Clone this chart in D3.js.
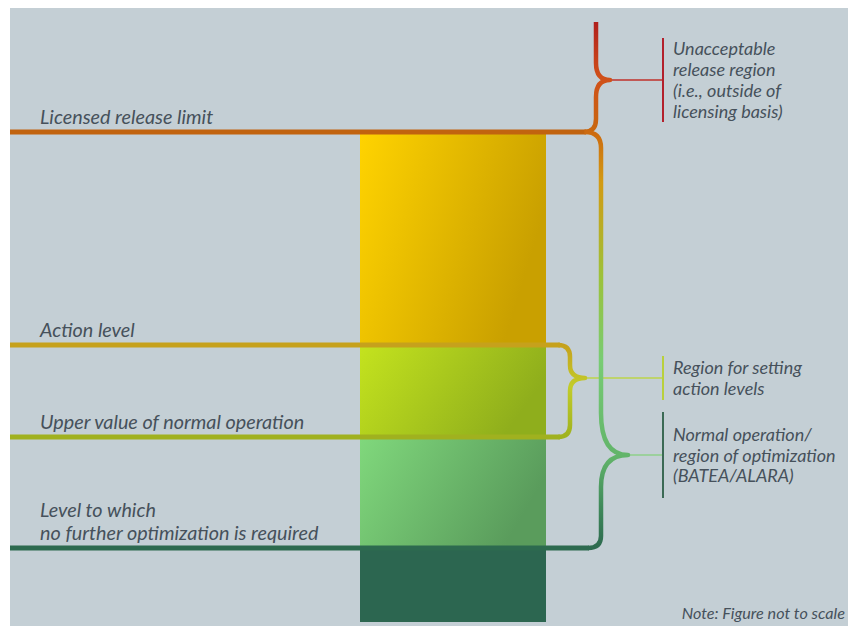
<!DOCTYPE html>
<html>
<head>
<meta charset="utf-8">
<script src="https://cdn.jsdelivr.net/npm/d3@7"></script>
<style>
  html, body { margin: 0; padding: 0; background: #ffffff; }
  svg { display: block; }
  text { font-family: Lato, "Open Sans", sans-serif; font-style: italic; fill: #46515b; }
</style>
</head>
<body>
<svg id="chart" width="848" height="626"></svg>
<script>
// ---- data (conceptual, not to scale) ----
const levelLabels = [
  ["Licensed release limit"],
  ["Action level"],
  ["Upper value of normal operation"],
  ["Level to which", "no further optimization is required"]
];
const levelValues = [98, 55.4, 37, 14.8];
const levelColors = ["#c1630f", "#c6a11c", "#a0b11f", "#2d6a4f"];

const barBreaks = [0, 14.8, 37, 55.4, 98];
const barStops = [
  ["#2c6650", "#2c6650"],
  ["#80d87c", "#5a9c5c"],
  ["#c4e31e", "#8fae1c"],
  ["#ffd300", "#c9a000"]
];

const regionLabels = [
  ["Unacceptable", "release region", "(i.e., outside of", "licensing basis)"],
  ["Region for setting", "action levels"],
  ["Normal operation/", "region of optimization", "(BATEA/ALARA)"]
];
const regionSpans = [[98, 120], [37, 55.4], [14.8, 98]];
const regionTips = [108.4, 48.8, 33.4];
const regionBarColors = ["#b3202c", "#b9d03c", "#3b6a55"];
const regionLinkColors = ["#c0302a", "#bcd44a", "#8fd08a"];

const noteText = "Note: Figure not to scale";

// ---- layout ----
const W = 848, H = 626;
const svg = d3.select("#chart");
const y = d3.scaleLinear().domain([0, 120]).range([622, 22]);
const barX0 = 360, barX1 = 546;
const lineX0 = 10;

const defs = svg.append("defs");

// background
svg.append("rect").attr("x", 10).attr("y", 8).attr("width", W - 10).attr("height", H - 8).attr("fill", "#c4cfd5");

// bar gradients (mostly left-to-right)
barStops.forEach((s, i) => {
  const g = defs.append("linearGradient").attr("id", "bar" + i)
    .attr("x1", 0).attr("y1", 0).attr("x2", 1).attr("y2", 0.35);
  g.append("stop").attr("offset", "0%").attr("stop-color", s[0]);
  g.append("stop").attr("offset", "100%").attr("stop-color", s[1]);
});

// bar segments
const segs = d3.range(barBreaks.length - 1).map(i => ({ lo: barBreaks[i], hi: barBreaks[i + 1], i }));
svg.append("g").selectAll("rect").data(segs).join("rect")
  .attr("x", barX0).attr("width", barX1 - barX0)
  .attr("y", d => y(d.hi) + (d.i === segs.length - 1 ? 2 : 0))
  .attr("height", d => y(d.lo) - y(d.hi) - (d.i === segs.length - 1 ? 2 : 0))
  .attr("fill", d => `url(#bar${d.i})`);

// bracket stroke gradients
function vGrad(id, y1, y2, stops) {
  const g = defs.append("linearGradient").attr("id", id)
    .attr("gradientUnits", "userSpaceOnUse")
    .attr("x1", 0).attr("x2", 0).attr("y1", y1).attr("y2", y2);
  stops.forEach(s => g.append("stop").attr("offset", s[0]).attr("stop-color", s[1]));
}
vGrad("gTop", y(120), y(98), [[0, "#b01f1c"], [0.5, "#d0501a"], [1, "#c8680f"]]);
vGrad("gBig", y(98), y(14.8), [[0, "#cc6a10"], [0.12, "#d39a12"], [0.35, "#9cc23a"], [0.55, "#78cc74"], [0.78, "#62b46a"], [0.9, "#3f8a5a"], [1, "#2d6a4f"]]);
vGrad("gMid", y(55.4), y(37), [[0, "#c6a11c"], [0.45, "#c2cc2a"], [1, "#9fb21f"]]);

// horizontal level lines
const lineEnds = [586, 560, 560, 589];
svg.append("g").selectAll("line").data(levelValues).join("line")
  .attr("x1", lineX0).attr("x2", (d, i) => lineEnds[i])
  .attr("y1", d => y(d)).attr("y2", d => y(d))
  .attr("stroke", (d, i) => levelColors[i]).attr("stroke-width", 5);

// level labels
levelLabels.forEach((lines, i) => {
  const base = y(levelValues[i]) - 8 - (lines.length - 1) * 23;
  const t = svg.append("text").attr("x", 40).attr("y", base).attr("font-size", 19.8);
  lines.forEach((l, k) => t.append("tspan").attr("x", 40).attr("y", base + k * 23).text(l));
});

// brackets
const topXv = 596, topTip = 610;
const bigXv = 601, bigTip = 628;
const midXv = 570, midTip = 585;

const pTop = `M${topXv},${y(120)} L${topXv},${y(regionTips[0]) - 17} Q${topXv},${y(regionTips[0])} ${topTip},${y(regionTips[0])} Q${topXv},${y(regionTips[0])} ${topXv},${y(regionTips[0]) + 17} L${topXv},${y(98) - 13} Q${topXv},${y(98)} ${topXv - 12},${y(98)}`;
const pBig = `M${bigXv - 16},${y(98)} Q${bigXv},${y(98)} ${bigXv},${y(98) + 16} L${bigXv},${y(regionTips[2]) - 42} Q${bigXv},${y(regionTips[2])} ${bigTip},${y(regionTips[2])} Q${bigXv},${y(regionTips[2])} ${bigXv},${y(regionTips[2]) + 32} L${bigXv},${y(14.8) - 12} Q${bigXv},${y(14.8)} ${bigXv - 13},${y(14.8)}`;
const pMid = `M${midXv - 12},${y(55.4)} Q${midXv},${y(55.4)} ${midXv},${y(55.4) + 12} L${midXv},${y(regionTips[1]) - 13} Q${midXv},${y(regionTips[1])} ${midTip},${y(regionTips[1])} Q${midXv},${y(regionTips[1])} ${midXv},${y(regionTips[1]) + 13} L${midXv},${y(37) - 12} Q${midXv},${y(37)} ${midXv - 12},${y(37)}`;

// connectors to region label bars
const labelBarX = 663;
const tipXs = [topTip, midTip, bigTip];
svg.append("g").selectAll("line").data(regionTips).join("line")
  .attr("x1", (d, i) => tipXs[i]).attr("x2", labelBarX)
  .attr("y1", d => y(d)).attr("y2", d => y(d))
  .attr("stroke", (d, i) => regionLinkColors[i]).attr("stroke-width", 1.6);

[[pTop, "gTop", 4.5], [pBig, "gBig", 4.5], [pMid, "gMid", 4.5]].forEach(([d, g, w]) => {
  svg.append("path").attr("d", d).attr("fill", "none")
    .attr("stroke", `url(#${g})`).attr("stroke-width", w)
    .attr("stroke-linejoin", "round");
});

// region label bars and text
const barHalf = [42, 22, 43];
const lineH = 20.8;
regionLabels.forEach((lines, i) => {
  const ty = y(regionTips[i]);
  svg.append("line").attr("x1", labelBarX).attr("x2", labelBarX)
    .attr("y1", ty - barHalf[i]).attr("y2", ty + barHalf[i])
    .attr("stroke", regionBarColors[i]).attr("stroke-width", 2);
  const t = svg.append("text").attr("font-size", 18);
  lines.forEach((l, k) => t.append("tspan").attr("x", 673)
    .attr("y", ty + (k - (lines.length - 1) / 2) * lineH + 6.5).text(l));
});

// note
svg.append("text").attr("x", 845).attr("y", 619).attr("text-anchor", "end")
  .attr("font-size", 16.2).text(noteText);
</script>
</body>
</html>
